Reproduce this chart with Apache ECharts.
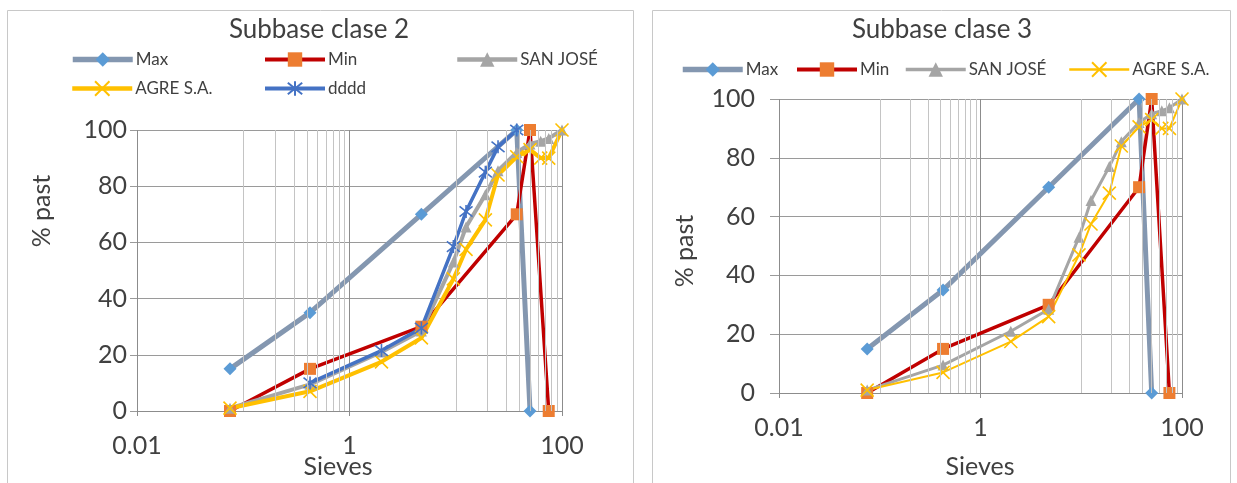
<!DOCTYPE html>
<html>
<head>
<meta charset="utf-8">
<script src="https://cdn.jsdelivr.net/npm/echarts@6/dist/echarts.min.js"></script>
<style>html,body{margin:0;padding:0;background:#fff}#c{width:1237px;height:483px}</style>
</head>
<body>
<div id="c"></div>
<script>
// ---- data (sieve size in mm, % passing) ----
const maxX = [0.075, 0.425, 4.75, 37.5, 50];
const maxY = [15, 35, 70, 100, 0];
const minX = [0.075, 0.425, 4.75, 37.5, 50, 75];
const minY = [0, 15, 30, 70, 100, 0];
const sieves = [0.075, 0.425, 2, 4.75, 9.5, 12.5, 19, 25, 37.5, 50, 63, 75, 100];
const sanJose = [1, 9.5, 21, 28.5, 53, 65.5, 77, 85.5, 92, 95, 96, 97, 100];
const agre = [1, 7, 17.5, 26, 47, 57.5, 68, 84, 90.5, 93, 90, 90, 100];
const ddddX = [0.425, 2, 4.75, 9.5, 12.5, 19, 25, 37.5];
const ddddY = [10, 21.5, 29.5, 58.5, 71, 85, 94, 100];
const xTickLabels = ['0.01', '1', '100'];
const minorGridValues = [0.1, 0.2, 0.3, 0.4, 0.5, 0.6, 0.7, 0.8, 0.9, 10, 20, 30, 40, 50, 60, 70, 80, 90];
const titles = ['Subbase clase 2', 'Subbase clase 3'];

const FONT = 'Lato';
const TXT = '#404040';
const zip = (xs, ys) => xs.map((x, i) => [x, ys[i]]);

const SYM_X = 'path://M0,0L10,10M10,0L0,10';
const SYM_AST = 'path://M1,1L9,9M9,1L1,9M5,0L5,10';

function styles(g) {
  return {
    'Max': {color: '#8497b0', width: 5, symbol: 'diamond', size: 13, mcolor: '#5b9bd5'},
    'Min': {color: '#c00000', width: 3.5, symbol: 'rect', size: 12, mcolor: '#ed7d31'},
    'SAN JOSÉ': {color: '#a5a5a5', width: g === 0 ? 4 : 3, symbol: 'triangle', size: 11, mcolor: '#a5a5a5'},
    'AGRE S.A.': {color: '#ffc000', width: g === 0 ? 4 : 2, symbol: SYM_X, size: 13, mcolor: '#ffc000', stroke: true},
    'dddd': {color: '#4472c4', width: 3.5, symbol: SYM_AST, size: 13, mcolor: '#4472c4', stroke: true}
  };
}

function mk(name, data, g) {
  const s = styles(g)[name];
  return {
    name, type: 'line', xAxisIndex: g, yAxisIndex: g, data,
    symbol: s.symbol, symbolSize: s.size, showSymbol: true, z: 3,
    lineStyle: {color: s.color, width: s.width},
    itemStyle: s.stroke ? {color: s.mcolor, borderColor: s.mcolor, borderWidth: 1.6}
                        : {color: s.mcolor, borderWidth: 0},
    emphasis: {disabled: true}, animation: false
  };
}

function gridSeries(g) {
  return {
    name: 'grid' + g, type: 'line', xAxisIndex: g, yAxisIndex: g, data: [], z: 1,
    silent: true, animation: false,
    markLine: {silent: true, symbol: 'none', animation: false, label: {show: false},
      lineStyle: {color: '#c4c4c4', width: 1, type: 'solid'},
      emphasis: {disabled: true},
      data: minorGridValues.map(v => ({xAxis: v}))}
  };
}

const grids = [
  {left: 137, right: 675, top: 130, bottom: 72},
  {left: 779, right: 55, top: 99, bottom: 90}
];

function xAxis(g) {
  return {
    type: 'log', logBase: 100, min: 0.01, max: 100, gridIndex: g,
    axisLine: {show: true, onZero: false, lineStyle: {color: '#8c8c8c', width: 1}},
    axisTick: {show: true, length: 5, lineStyle: {color: '#8c8c8c'}},
    splitLine: {show: true, lineStyle: {color: '#8c8c8c', width: 1}},
    axisLabel: {fontFamily: FONT, fontSize: 25, color: TXT, margin: 22,
      formatter: v => xTickLabels[Math.round(Math.log10(v) / 2) + 1] || ''}
  };
}
function yAxis(g) {
  return {
    type: 'value', min: 0, max: 100, interval: 20, gridIndex: g,
    axisLine: {show: false},
    axisTick: {show: true, length: g === 0 ? 7 : 9, lineStyle: {color: '#9a9a9a'}},
    splitLine: {show: true, lineStyle: {color: '#9a9a9a', width: 1}},
    axisLabel: {fontFamily: FONT, fontSize: 25, color: TXT, margin: g === 0 ? 10 : 24}
  };
}

function legendItem(name, left, top, g) {
  const s = styles(g)[name];
  return {data: [name], left, top: top - 2, itemWidth: 60, itemHeight: 18, itemGap: 5,
    padding: 0, selectedMode: false,
    lineStyle: {width: s.width + 0.5, color: s.color},
    textStyle: {fontFamily: FONT, fontSize: 17, color: TXT, padding: [0, 0, 0, -2]}};
}

function txt(text, x, y, size, rot) {
  return {type: 'text', x, y, rotation: rot || 0, silent: true,
    style: {text, fontFamily: FONT, fontSize: size, fill: TXT, align: 'center', verticalAlign: 'middle'}};
}

const option = {
  backgroundColor: '#ffffff',
  animation: false,
  title: [
    {text: titles[0], left: 319, top: 17, textAlign: 'center', padding: 0,
      textStyle: {fontFamily: FONT, fontSize: 26, fontWeight: 'normal', color: TXT}},
    {text: titles[1], left: 942, top: 17, textAlign: 'center', padding: 0,
      textStyle: {fontFamily: FONT, fontSize: 26, fontWeight: 'normal', color: TXT}}
  ],
  legend: [
    legendItem('Max', 70, 53, 0), legendItem('Min', 263, 53, 0), legendItem('SAN JOSÉ', 455, 53, 0),
    legendItem('AGRE S.A.', 70, 82, 0), legendItem('dddd', 263, 82, 0),
    legendItem('Max', 680, 63, 1), legendItem('Min', 795, 63, 1), legendItem('SAN JOSÉ', 904, 63, 1),
    legendItem('AGRE S.A.', 1068, 63, 1)
  ],
  grid: grids,
  xAxis: [xAxis(0), xAxis(1)],
  yAxis: [yAxis(0), yAxis(1)],
  graphic: [
    {type: 'rect', silent: true, shape: {x: 7.5, y: 10.5, width: 626, height: 480},
      style: {fill: 'none', stroke: '#c8c8c8', lineWidth: 1}},
    {type: 'rect', silent: true, shape: {x: 652.5, y: 10.5, width: 578, height: 480},
      style: {fill: 'none', stroke: '#c8c8c8', lineWidth: 1}},
    txt('% past', 42, 211, 25, Math.PI / 2),
    txt('% past', 685, 251, 25, Math.PI / 2),
    txt('Sieves', 338, 467, 25),
    txt('Sieves', 980, 467, 25)
  ],
  series: [
    gridSeries(0), gridSeries(1),
    mk('Max', zip(maxX, maxY), 0),
    mk('Min', zip(minX, minY), 0),
    mk('SAN JOSÉ', zip(sieves, sanJose), 0),
    mk('AGRE S.A.', zip(sieves, agre), 0),
    mk('dddd', zip(ddddX, ddddY), 0),
    mk('Max', zip(maxX, maxY), 1),
    mk('Min', zip(minX, minY), 1),
    mk('SAN JOSÉ', zip(sieves, sanJose), 1),
    mk('AGRE S.A.', zip(sieves, agre), 1)
  ]
};

const chart = echarts.init(document.getElementById('c'), null, {renderer: 'canvas'});
chart.setOption(option);
</script>
</body>
</html>
